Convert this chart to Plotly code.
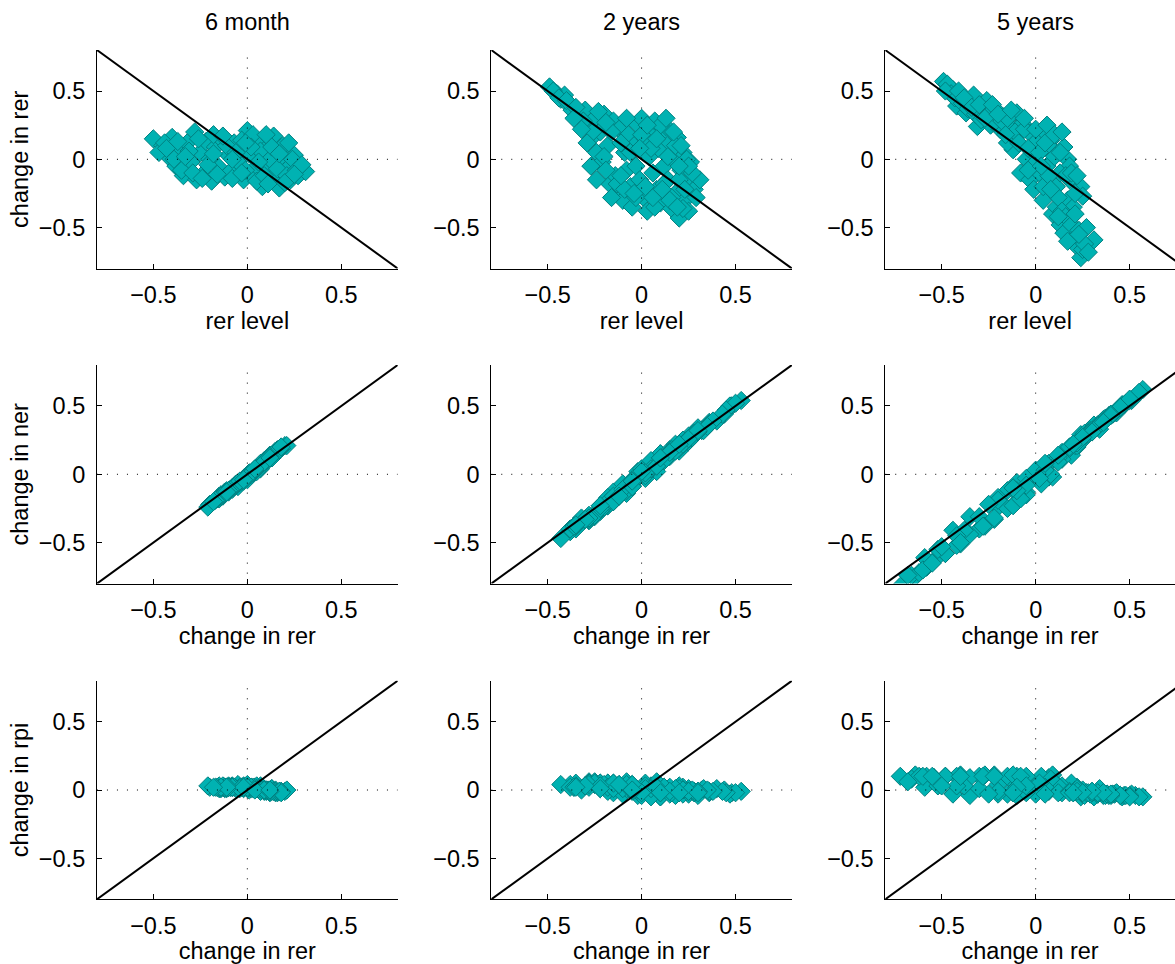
import plotly.graph_objects as go

# ---------------- data ----------------
horizons = ["6 month", "2 years", "5 years"]
row_ylabels = ["change in rer", "change in ner", "change in rpi"]
row_xlabels = ["rer level", "change in rer", "change in rer"]
tick_vals = [-0.5, 0, 0.5]
tick_text = ["\u22120.5", "0", "0.5"]

# 6 month
lvl6 = [-0.50,-0.45,-0.42,-0.40,-0.38,-0.36,-0.34,-0.32,-0.30,-0.28,-0.27,-0.25,-0.23,-0.22,-0.20,-0.19,-0.17,-0.15,-0.14,-0.12,
        -0.10,-0.09,-0.07,-0.05,-0.04,-0.02,0.00,0.01,0.02,0.04,0.05,0.06,0.08,0.09,0.10,0.11,0.12,0.13,0.14,0.15,
        0.16,0.17,0.18,0.19,0.20,0.22,0.23,0.25,0.27,0.31,
        -0.47,-0.44,-0.39,-0.35,-0.31,-0.29,-0.26,-0.21,-0.18,-0.16,-0.11,-0.08,-0.06,-0.03,-0.01,0.03,0.05,0.07,0.09,0.12,
        0.14,0.16,0.19,0.21,0.24,0.26,0.29,
        -0.43,-0.37,-0.33,-0.24,-0.18,-0.13,-0.08,-0.03,0.02,0.06,0.10,0.13,0.17,0.20,0.22,0.25,0.11,-0.01]
rer6 = [0.15,0.10,0.02,0.16,-0.05,0.08,-0.12,0.12,-0.02,0.20,-0.15,0.05,-0.10,0.13,0.00,-0.16,0.09,-0.06,0.15,-0.13,
        0.03,-0.09,0.12,-0.02,0.07,-0.15,0.21,0.04,-0.11,0.10,-0.05,0.13,-0.20,0.01,0.08,-0.08,0.15,-0.14,0.05,-0.03,
        0.11,-0.21,0.02,-0.10,0.07,-0.06,-0.15,0.03,-0.12,-0.09,
        0.05,0.12,0.00,-0.08,0.06,-0.10,0.15,-0.04,0.18,-0.11,0.10,-0.14,0.05,0.14,-0.08,0.18,-0.16,0.06,-0.12,0.00,
        0.17,-0.07,0.10,-0.12,0.00,-0.08,-0.04,
        0.08,0.13,0.02,-0.14,0.04,0.17,0.00,-0.10,0.09,-0.02,0.18,0.09,0.04,-0.17,0.12,-0.11,-0.18,0.12]
ner6 = [0.16,0.10,0.00,0.18,-0.08,0.07,-0.14,0.12,-0.05,0.21,-0.16,0.03,-0.13,0.12,-0.04,-0.18,0.10,-0.08,0.15,-0.16,
        0.02,-0.11,0.14,-0.03,0.04,-0.17,0.21,0.02,-0.12,0.11,-0.09,0.12,-0.22,0.01,0.06,-0.11,0.17,-0.15,0.02,-0.05,
        0.11,-0.24,0.01,-0.12,0.08,-0.07,-0.18,0.01,-0.13,-0.11,
        0.04,0.13,-0.02,-0.10,0.05,-0.12,0.16,-0.06,0.19,-0.13,0.10,-0.16,0.04,0.15,-0.10,0.19,-0.18,0.05,-0.14,-0.02,
        0.18,-0.09,0.10,-0.14,-0.01,-0.10,-0.05,
        0.08,0.14,0.00,-0.16,0.03,0.18,-0.02,-0.12,0.09,-0.04,0.20,0.09,0.04,-0.19,0.13,-0.13,-0.20,0.12]
rpi6 = [-0.01,0.00,0.02,-0.02,0.03,0.01,0.02,0.00,0.03,-0.01,0.01,0.02,0.03,0.01,0.04,0.02,-0.01,0.02,0.00,0.03,
        0.01,0.02,-0.02,0.01,0.03,0.02,0.00,0.02,0.01,-0.01,0.04,0.01,0.02,0.00,0.02,0.03,-0.02,0.01,0.03,0.02,
        0.00,0.03,0.01,0.02,-0.01,0.01,0.03,0.02,0.01,0.02,
        0.01,-0.01,0.02,0.02,0.01,0.02,-0.01,0.02,-0.01,0.02,0.00,0.02,0.01,-0.01,0.02,-0.01,0.02,0.01,0.02,0.02,
        -0.01,0.02,0.00,0.02,0.01,0.02,0.01,
        0.00,-0.01,0.02,0.02,0.01,-0.01,0.02,0.02,0.00,0.02,-0.02,0.00,0.00,0.02,-0.01,0.02,0.02,0.00]

# 2 years
lvl2 = [-0.49,-0.45,-0.43,-0.41,-0.39,-0.37,-0.33,-0.30,-0.28,-0.27,-0.25,-0.24,-0.22,-0.21,-0.20,-0.18,-0.17,-0.15,-0.14,-0.13,
        -0.12,-0.10,-0.09,-0.08,-0.07,-0.06,-0.05,-0.04,-0.03,-0.02,-0.01,0.00,0.01,0.02,0.03,0.04,0.05,0.06,0.07,0.08,
        0.09,0.10,0.11,0.12,0.13,0.14,0.15,0.16,0.17,0.18,0.19,0.20,0.21,0.22,0.23,0.24,0.25,0.26,0.28,0.31,
        -0.47,-0.44,-0.40,-0.35,-0.31,-0.26,-0.23,-0.20,-0.19,-0.16,-0.13,-0.11,-0.09,-0.06,-0.03,0.00,0.02,0.05,0.07,0.10,
        0.12,0.14,0.16,0.18,0.20,0.22,0.24,0.27,0.29,
        -0.36,-0.32,-0.29,-0.27,-0.24,-0.19,-0.16,-0.11,-0.08,-0.04,-0.01,0.03,0.06,0.08,0.11,0.13,0.15,0.17,0.19,0.21,
        0.23,0.25,0.20]
rer2 = [0.53,0.48,0.44,0.47,0.40,0.36,0.32,0.36,0.25,0.15,0.30,0.05,0.20,-0.02,0.33,0.10,-0.18,0.28,-0.12,-0.25,
        0.22,-0.30,0.05,-0.08,0.18,-0.20,-0.35,0.10,-0.05,0.25,-0.15,0.30,-0.28,0.15,-0.38,0.02,0.22,-0.10,0.28,-0.22,
        0.08,-0.32,0.18,-0.05,0.24,-0.15,0.12,-0.36,0.00,-0.25,0.16,-0.43,-0.08,0.05,-0.30,-0.18,-0.38,-0.02,-0.22,-0.15,
        0.50,0.45,0.43,0.38,0.28,0.20,0.35,0.02,-0.08,0.20,-0.18,0.12,-0.22,0.05,-0.28,0.18,-0.20,0.08,-0.35,0.25,
        -0.18,0.02,-0.28,0.10,-0.15,-0.36,0.00,-0.10,-0.28,
        0.30,0.22,0.12,-0.05,-0.15,0.27,-0.28,-0.12,0.30,-0.25,0.08,0.25,-0.28,0.15,-0.22,0.30,-0.30,0.20,-0.35,0.10,
        -0.22,-0.05,-0.05]
ner2 = [0.54,0.50,0.44,0.50,0.39,0.38,0.32,0.37,0.28,0.13,0.34,0.02,0.22,0.02,0.32,0.15,-0.23,0.30,-0.16,-0.31,
        0.25,-0.33,0.09,-0.14,0.18,-0.22,-0.40,0.15,-0.09,0.24,-0.13,0.31,-0.34,0.18,-0.42,-0.03,0.20,-0.07,0.30,-0.23,
        0.02,-0.32,0.22,-0.08,0.25,-0.20,0.10,-0.38,0.04,-0.29,0.18,-0.47,-0.09,0.10,-0.33,-0.17,-0.40,-0.02,-0.27,-0.18,
        0.52,0.47,0.44,0.39,0.29,0.17,0.35,-0.01,-0.12,0.19,-0.23,0.11,-0.27,0.04,-0.33,0.17,-0.24,0.06,-0.38,0.26,
        -0.20,0.01,-0.31,0.12,-0.16,-0.38,0.02,-0.11,-0.30,
        0.31,0.22,0.10,-0.09,-0.20,0.27,-0.33,-0.16,0.31,-0.30,0.06,0.26,-0.32,0.16,-0.25,0.32,-0.33,0.22,-0.37,0.12,
        -0.23,-0.04,-0.05]
rpi2 = [-0.01,-0.02,0.00,-0.03,0.01,-0.02,0.00,-0.01,-0.03,0.02,-0.04,0.03,-0.02,-0.04,0.01,-0.05,0.05,-0.02,0.04,0.06,
        -0.03,0.03,-0.04,0.06,0.00,0.02,0.05,-0.05,0.04,0.01,-0.02,-0.01,0.06,-0.03,0.04,0.05,0.02,-0.03,-0.02,0.01,
        0.06,0.00,-0.04,0.03,-0.01,0.05,0.02,0.02,-0.04,0.04,-0.02,0.04,0.01,-0.05,0.03,-0.01,0.02,0.00,0.05,0.03,
        -0.02,-0.02,-0.01,-0.01,-0.01,0.03,0.00,0.03,0.04,0.01,0.05,0.01,0.05,0.01,0.05,0.01,0.04,0.02,0.03,-0.01,
        0.02,0.01,0.03,-0.02,0.01,0.02,-0.02,0.01,0.02,
        -0.01,0.00,0.02,0.04,0.05,0.00,0.05,0.04,-0.01,0.05,0.02,-0.01,0.04,-0.01,0.03,-0.02,0.03,-0.02,0.02,-0.02,
        0.01,-0.01,0.00]

# 5 years
lvl5 = [-0.49,-0.46,-0.44,-0.42,-0.40,-0.37,-0.35,-0.33,-0.31,-0.28,-0.26,-0.24,-0.21,-0.19,-0.17,-0.14,-0.12,-0.10,-0.08,-0.07,
        -0.05,-0.03,-0.03,-0.01,0.01,0.02,0.04,0.04,0.04,0.06,0.08,0.09,0.09,0.11,0.11,0.13,0.15,0.15,0.17,0.17,
        0.18,0.18,0.18,0.20,0.20,0.22,0.24,0.24,0.25,0.25,0.31,-0.15,0.00,0.13,
        -0.47,-0.45,-0.43,-0.39,-0.36,-0.32,-0.29,-0.25,-0.22,-0.18,-0.15,-0.11,-0.09,-0.06,-0.04,-0.02,0.02,0.05,0.07,0.10,
        0.12,0.14,0.16,0.19,0.21,0.23,0.26,0.28,0.13,0.16,
        -0.48,-0.41,-0.38,-0.34,-0.30,-0.27,-0.23,-0.20,-0.16,-0.13,-0.06,-0.04,0.00,0.03,0.06,0.08,0.10,0.12,0.14,0.17,
        0.19,0.21,0.22,0.27,0.23]
rer5 = [0.57,0.53,0.51,0.39,0.46,0.34,0.42,0.47,0.24,0.38,0.43,0.25,0.36,0.22,0.31,0.25,0.07,0.34,-0.10,0.26,
        0.00,0.19,-0.15,-0.22,0.14,-0.10,0.21,-0.30,-0.20,-0.05,0.14,0.07,-0.40,-0.20,-0.35,-0.48,0.09,-0.54,0.00,-0.30,
        -0.15,-0.05,-0.44,-0.35,-0.58,-0.64,-0.20,-0.72,-0.27,-0.66,-0.59,0.12,0.03,-0.10,
        0.55,0.48,0.45,0.41,0.37,0.33,0.29,0.33,0.27,0.28,0.30,0.20,0.12,0.22,0.08,-0.05,0.05,0.12,-0.12,0.02,
        -0.28,-0.38,-0.42,-0.48,-0.25,-0.52,-0.62,-0.68,0.05,-0.12,
        0.50,0.50,0.45,0.38,0.40,0.30,0.40,0.33,0.18,0.36,0.30,-0.08,0.22,-0.05,0.25,-0.22,0.18,-0.42,0.20,-0.60,
        -0.10,-0.40,-0.12,-0.50,-0.55]
ner5 = [0.62,0.57,0.54,0.43,0.51,0.36,0.45,0.51,0.29,0.41,0.45,0.25,0.40,0.20,0.36,0.28,-0.02,0.33,-0.20,0.30,
        -0.02,0.14,-0.12,-0.33,0.16,-0.06,0.21,-0.40,-0.17,-0.13,0.11,0.08,-0.51,-0.24,-0.31,-0.58,-0.02,-0.63,0.03,-0.31,
        -0.25,-0.03,-0.41,-0.44,-0.68,-0.75,-0.19,-0.82,-0.38,-0.74,-0.61,0.12,-0.07,-0.14,
        0.60,0.52,0.49,0.44,0.41,0.36,0.32,0.36,0.29,0.30,0.31,0.22,0.09,0.21,0.00,-0.15,0.03,0.14,-0.23,-0.03,
        -0.38,-0.41,-0.52,-0.58,-0.22,-0.55,-0.72,-0.74,0.08,-0.10,
        0.54,0.55,0.49,0.41,0.44,0.32,0.43,0.35,0.19,0.38,0.31,-0.18,0.23,-0.08,0.27,-0.32,0.20,-0.45,0.22,-0.70,
        -0.12,-0.50,-0.10,-0.53,-0.65]
rpi5 = [-0.05,-0.04,-0.03,-0.04,-0.05,-0.02,-0.03,-0.04,-0.05,-0.03,-0.02,0.00,-0.04,0.02,-0.05,-0.03,0.09,0.01,0.10,-0.04,
        0.02,0.05,-0.03,0.11,-0.02,-0.04,0.00,0.10,-0.03,0.08,0.03,-0.01,0.11,0.04,-0.04,0.10,0.11,0.09,-0.03,0.01,
        0.10,-0.02,-0.03,0.09,0.10,0.11,-0.01,0.10,0.11,0.08,0.02,0.00,0.10,0.04,
        -0.05,-0.04,-0.04,-0.03,-0.04,-0.03,-0.03,-0.03,-0.02,-0.02,-0.01,-0.02,0.03,0.01,0.08,0.10,0.02,-0.02,0.11,0.05,
        0.10,0.03,0.10,0.10,-0.03,0.03,0.10,0.06,-0.03,-0.02,
        -0.04,-0.05,-0.04,-0.03,-0.04,-0.02,-0.03,-0.02,-0.01,-0.02,-0.01,0.10,-0.01,0.03,-0.02,0.10,-0.02,0.03,-0.02,0.10,
        0.02,0.10,-0.02,0.03,0.10]

panels = [
    [(lvl6, rer6), (lvl2, rer2), (lvl5, rer5)],
    [(rer6, ner6), (rer2, ner2), (rer5, ner5)],
    [(rer6, rpi6), (rer2, rpi2), (rer5, rpi5)],
]
diag_x = [-0.8, 0.8]
diag_y = [[0.8, -0.8], [-0.8, 0.8], [-0.8, 0.8]]

# ---------------- layout geometry ----------------
W, H = 1175, 964
x_domains = [[0.0825, 0.3385], [0.4181, 0.6740], [0.7534, 1.0]]
x_ranges = [[-0.8, 0.8], [-0.8, 0.8], [-0.8, 0.741]]
y_domains = [[0.7214, 0.9481], [0.3946, 0.6214], [0.0671, 0.2939]]
title_x = [247.3 / W, 641.7 / W, 1035.7 / W]

FONT = "Liberation Sans, Arial, Helvetica, sans-serif"
FS = 23.5
FILL = "rgb(0,178,178)"
EDGE = "rgb(0,128,128)"

fig = go.Figure()
layout = dict(width=W, height=H, margin=dict(l=0, r=0, t=0, b=0),
              paper_bgcolor="white", plot_bgcolor="white", showlegend=False,
              font=dict(family=FONT, size=FS, color="black"))
shapes = []
annotations = []

for r in range(3):
    for c in range(3):
        k = r * 3 + c + 1
        xa = "xaxis" if k == 1 else f"xaxis{k}"
        ya = "yaxis" if k == 1 else f"yaxis{k}"
        xr = "x" if k == 1 else f"x{k}"
        yr = "y" if k == 1 else f"y{k}"
        axis_common = dict(showline=True, linecolor="black", linewidth=1, mirror=False,
                           ticks="inside", ticklen=5, tickcolor="black", tickwidth=1,
                           showgrid=False, zeroline=False, tickvals=tick_vals, ticktext=tick_text,
                           tickfont=dict(family=FONT, size=FS, color="black"), fixedrange=True)
        layout[xa] = dict(axis_common, domain=x_domains[c], range=x_ranges[c], anchor=yr,
                          ticklabelstandoff=5,
                          title=dict(text=row_xlabels[r], standoff=4,
                                     font=dict(family=FONT, size=FS, color="black")))
        layout[ya] = dict(axis_common, domain=y_domains[r], range=[-0.8, 0.8], anchor=xr,
                          ticklabelstandoff=6,
                          title=dict(text=row_ylabels[r] if c == 0 else "", standoff=3,
                                     font=dict(family=FONT, size=FS, color="black")))
        px_, py_ = panels[r][c]
        fig.add_trace(go.Scatter(x=px_, y=py_, mode="markers", xaxis=xr, yaxis=yr,
                                 marker=dict(symbol="diamond", size=14, color=FILL,
                                             line=dict(color=EDGE, width=1)),
                                 hoverinfo="skip"))
        fig.add_trace(go.Scatter(x=diag_x, y=diag_y[r], mode="lines", xaxis=xr, yaxis=yr,
                                 line=dict(color="black", width=2), hoverinfo="skip"))
        # dotted zero lines
        shapes.append(dict(type="line", xref=xr, yref=yr, x0=0, x1=0, y0=-0.8, y1=0.8,
                           line=dict(color="black", width=1, dash="1px,9px"), layer="above"))
        shapes.append(dict(type="line", xref=xr, yref=yr, x0=-0.8, x1=x_ranges[c][1], y0=0, y1=0,
                           line=dict(color="black", width=1, dash="1px,9px"), layer="above"))

for c in range(3):
    annotations.append(dict(text=horizons[c], xref="paper", yref="paper", x=title_x[c], y=1 - 22 / H,
                            xanchor="center", yanchor="middle", showarrow=False,
                            font=dict(family=FONT, size=FS, color="black")))

layout["shapes"] = shapes
layout["annotations"] = annotations
fig.update_layout(**layout)
fig.write_html("out.html", config={"displayModeBar": False},
               post_script="document.body.style.margin='0px';document.body.style.overflow='hidden';")
